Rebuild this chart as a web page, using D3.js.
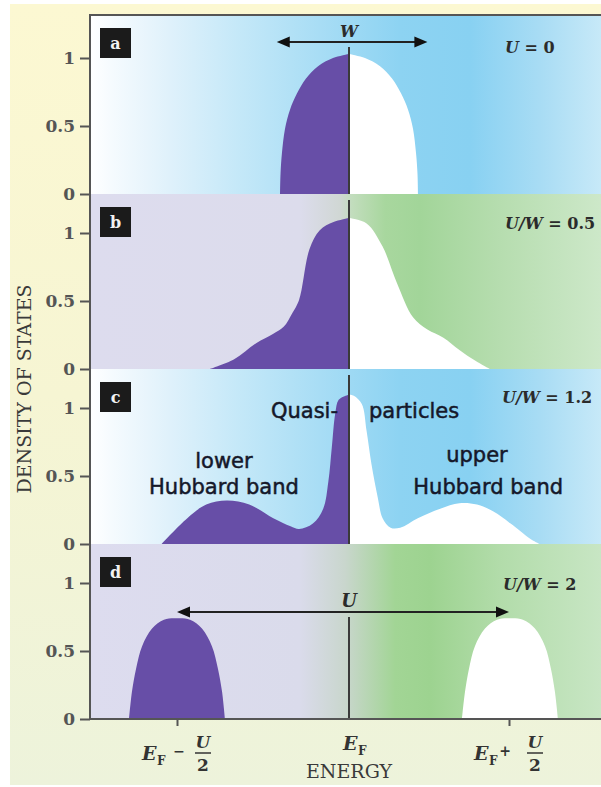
<!DOCTYPE html>
<html><head><meta charset="utf-8">
<script src="https://cdn.jsdelivr.net/npm/d3@7"></script>
<style>html,body{margin:0;padding:0;background:#fff;} svg{display:block;}</style>
</head><body><svg id="chart" width="601" height="787"></svg>
<script>
// ---------------- DATA ----------------
const panelIds = ["a", "b", "c", "d"];
const ratioVars = ["U", "U/W", "U/W", "U/W"];
const ratioValues = ["0", "0.5", "1.2", "2"];

// energy in units of U/2 relative to E_F, density of states (arb.)
const aEnergy = [-0.401, -0.398, -0.390, -0.372, -0.343, -0.302, -0.250, -0.180, -0.093, 0, 0.100, 0.194, 0.269, 0.325, 0.369, 0.400, 0.419, 0.428, 0.431];
const aDos    = [0, 0.15, 0.30, 0.48, 0.62, 0.74, 0.85, 0.94, 1.00, 1.03, 1.00, 0.94, 0.85, 0.74, 0.62, 0.48, 0.30, 0.15, 0];

const bEnergy = [-0.81, -0.67, -0.54, -0.44, -0.38, -0.33, -0.29, -0.23, -0.17, -0.09, 0, 0.11, 0.21, 0.30, 0.40, 0.49, 0.59, 0.69, 0.79, 0.88];
const bDos    = [0, 0.07, 0.19, 0.26, 0.31, 0.41, 0.51, 0.88, 1.02, 1.08, 1.11, 1.07, 0.90, 0.63, 0.38, 0.29, 0.23, 0.14, 0.06, 0];

const cEnergy = [-1.09, -0.94, -0.83, -0.71, -0.58, -0.44, -0.34, -0.29, -0.21, -0.15, -0.12, -0.10, -0.08, -0.06, -0.02, 0, 0.03, 0.08, 0.11, 0.14, 0.18, 0.21, 0.26, 0.32, 0.43, 0.57, 0.69, 0.80, 0.90, 1.01, 1.13, 1.19];
const cDos    = [0, 0.19, 0.29, 0.32, 0.29, 0.19, 0.13, 0.11, 0.15, 0.26, 0.46, 0.71, 0.96, 1.06, 1.09, 1.10, 1.09, 1.03, 0.83, 0.59, 0.34, 0.19, 0.12, 0.12, 0.19, 0.26, 0.30, 0.29, 0.24, 0.15, 0.04, 0];

const dEnergy = [-1.279, -1.262, -1.238, -1.203, -1.145, -1.076, -1.0, -0.924, -0.855, -0.797, -0.762, -0.738, -0.721,
                 0.706, 0.725, 0.750, 0.787, 0.850, 0.925, 1.006, 1.087, 1.162, 1.225, 1.262, 1.287, 1.306];
const dDos    = [0, 0.20, 0.37, 0.535, 0.665, 0.73, 0.74, 0.73, 0.665, 0.535, 0.37, 0.20, 0,
                 0, 0.20, 0.37, 0.535, 0.665, 0.73, 0.74, 0.73, 0.665, 0.535, 0.37, 0.20, 0];

const yTickValues = [0, 0.5, 1];
const yTickLabels = ["0", "0.5", "1"];
const xTickValues = [-1, 0, 1];
const xTickOps = ["\u2212", "", "+"];
const wArrow = [-0.42, 0.49];
const uArrow = [-1, 1];

const cLabels = ["Quasi-", "particles", "lower", "Hubbard band", "upper", "Hubbard band"];
const cLabelEnergy = [-0.064, 0.125, -0.727, -0.727, 0.80, 0.87];
const cLabelDos = [0.93, 0.93, 0.56, 0.37, 0.60, 0.37];
const cLabelAnchor = ["end", "start", "middle", "middle", "middle", "middle"];

// ---------------- LAYOUT ----------------
const svg = d3.select("#chart");
const plotLeft = 90, plotRight = 601, plotTop = 15, plotBottom = 719;
const panelStep = 175, unitPx = 136;
const serif = "'DejaVu Serif', serif";
const sans = "'DejaVu Sans', sans-serif";
const purple = "#674ea7";

const x = d3.scaleLinear().domain([-1, 0, 1]).range([177, 349, 509]);

const defs = svg.append("defs");
function grad(id, stops, vertical) {
  const g = defs.append("linearGradient").attr("id", id)
    .attr("x1", 0).attr("y1", 0).attr("x2", vertical ? 0 : 1).attr("y2", vertical ? 1 : 0);
  stops.forEach(s => g.append("stop").attr("offset", s[0]).attr("stop-color", s[1]));
}
grad("pagebg", [[0, "#fcf8d2"], [0.5, "#f6f5d3"], [1, "#edf3db"]], true);
const off = px => (px - plotLeft) / (plotRight - plotLeft);
grad("blue", [[0, "#ffffff"], [off(110), "#f6fbfe"], [off(170), "#dff1fb"], [off(240), "#c4e8f8"], [off(320), "#a8ddf5"], [off(400), "#8dd3f2"], [off(470), "#88d1f2"], [off(540), "#a8dcf4"], [1, "#c7e9f8"]]);
grad("greenB", [[0, "#dddcee"], [off(300), "#dcdcec"], [off(340), "#d0d7d4"], [off(352), "#c2ddbd"], [off(385), "#a8d79e"], [off(420), "#a2d599"], [off(500), "#b6ddaf"], [1, "#cde8c9"]]);
grad("greenD", [[0, "#dddcef"], [off(300), "#dadbeb"], [off(345), "#c9d6cd"], [off(395), "#a2d595"], [off(430), "#9dd390"], [off(500), "#b2dcaa"], [1, "#c8e6c4"]]);
const panelFill = ["url(#blue)", "url(#greenB)", "url(#blue)", "url(#greenD)"];

svg.append("rect").attr("x", 10).attr("y", 4).attr("width", 591).attr("height", 781).attr("fill", "url(#pagebg)");

const energies = [aEnergy, bEnergy, cEnergy, dEnergy];
const doses = [aDos, bDos, cDos, dDos];
const lineTopOffset = [null, 6, 6, null];

panelIds.forEach((id, i) => {
  const zero = plotBottom - (3 - i) * panelStep;
  const top = i === 0 ? plotTop : zero - panelStep;
  const y = d3.scaleLinear().domain([0, 1]).range([zero, zero - unitPx]);
  const g = svg.append("g");

  g.append("rect").attr("x", plotLeft).attr("y", top).attr("width", plotRight - plotLeft)
    .attr("height", zero - top).attr("fill", panelFill[i]);

  const pts = energies[i].map((e, k) => [e, doses[i][k]]);
  const area = d3.area().x(d => x(d[0])).y0(zero).y1(d => Math.min(zero, y(d[1]))).curve(d3.curveCatmullRom.alpha(0.5));
  g.append("path").datum(pts.filter(d => d[0] <= 0)).attr("d", area).attr("fill", purple);
  g.append("path").datum(pts.filter(d => d[0] >= 0)).attr("d", area).attr("fill", "#ffffff");

  // E_F line
  let lineTop;
  if (i === 0) lineTop = 47; else if (i === 3) lineTop = 617; else lineTop = top + lineTopOffset[i];
  g.append("line").attr("x1", x(0)).attr("x2", x(0)).attr("y1", lineTop).attr("y2", zero)
    .attr("stroke", "#3a3a3a").attr("stroke-width", 2);

  // panel letter box
  g.append("rect").attr("x", 100).attr("y", top + 13).attr("width", 31).attr("height", 30).attr("fill", "#1b1b1b");
  g.append("text").attr("x", 115.5).attr("y", top + 34).attr("text-anchor", "middle")
    .attr("font-family", serif).attr("font-weight", "bold").attr("font-size", 16).attr("fill", "#f2f2f2").text(id);

  // ratio label
  const ry = [53, 229, 403, 590][i];
  const rx = [505, 505, 502, 503][i];
  const rt = g.append("text").attr("x", rx).attr("y", ry).attr("font-family", serif)
    .attr("font-weight", "bold").attr("font-size", 16).attr("fill", "#2b2b2b");
  rt.append("tspan").attr("font-style", "italic").text(ratioVars[i]);
  rt.append("tspan").text(" = " + ratioValues[i]);

  // left axis
  const ax = g.append("g").attr("transform", `translate(${plotLeft},0)`)
    .call(d3.axisLeft(y).tickValues(yTickValues).tickFormat((d, k) => yTickLabels[k]).tickSize(10).tickPadding(5));
  ax.select(".domain").remove();
  ax.selectAll(".tick line").attr("stroke", "#555").attr("stroke-width", 2);
  ax.selectAll(".tick text").attr("font-family", serif).attr("font-weight", "bold").attr("font-size", 17).attr("fill", "#555");

  if (i === 2) {
    cLabels.forEach((t, k) => {
      g.append("text").attr("x", x(cLabelEnergy[k])).attr("y", y(cLabelDos[k]))
        .attr("text-anchor", cLabelAnchor[k]).attr("font-family", sans).attr("font-size", 21)
        .attr("fill", "#15182a").attr("stroke", "#15182a").attr("stroke-width", 0.5).text(t);
    });
  }
});

// arrows
function arrow(x1, x2, yy) {
  svg.append("line").attr("x1", x1 + 6).attr("x2", x2 - 6).attr("y1", yy).attr("y2", yy)
    .attr("stroke", "#222").attr("stroke-width", 2);
  svg.append("path").attr("d", `M${x1},${yy} L${x1 + 13},${yy - 5.5} L${x1 + 13},${yy + 5.5} Z`).attr("fill", "#111");
  svg.append("path").attr("d", `M${x2},${yy} L${x2 - 13},${yy - 5.5} L${x2 - 13},${yy + 5.5} Z`).attr("fill", "#111");
}
arrow(x(wArrow[0]), x(wArrow[1]), 42);
svg.append("text").attr("x", x(0)).attr("y", 37).attr("text-anchor", "middle").attr("font-family", serif)
  .attr("font-weight", "bold").attr("font-style", "italic").attr("font-size", 16).attr("fill", "#2b2b2b").text("W");
arrow(x(uArrow[0]), x(uArrow[1]), 612);
svg.append("text").attr("x", x(0)).attr("y", 607).attr("text-anchor", "middle").attr("font-family", serif)
  .attr("font-weight", "bold").attr("font-style", "italic").attr("font-size", 18).attr("fill", "#2b2b2b").text("U");

// frame lines
svg.append("line").attr("x1", plotLeft).attr("x2", plotLeft).attr("y1", plotTop - 1).attr("y2", plotBottom + 1)
  .attr("stroke", "#555").attr("stroke-width", 2);
svg.append("line").attr("x1", plotLeft).attr("x2", plotRight).attr("y1", plotTop).attr("y2", plotTop)
  .attr("stroke", "#555").attr("stroke-width", 2);
svg.append("line").attr("x1", plotLeft).attr("x2", plotRight).attr("y1", plotBottom).attr("y2", plotBottom)
  .attr("stroke", "#555").attr("stroke-width", 2);

// bottom axis ticks
const bx = svg.append("g").attr("transform", `translate(0,${plotBottom})`)
  .call(d3.axisBottom(x).tickValues(xTickValues.filter(v => v !== 0)).tickSize(7).tickFormat(""));
bx.select(".domain").remove();
bx.selectAll(".tick line").attr("stroke", "#555").attr("stroke-width", 2);

// x tick labels
xTickValues.forEach((v, k) => {
  const cx = x(v);
  const lg = svg.append("g").attr("transform", `translate(${cx},0)`).attr("fill", "#333").attr("font-family", serif);
  if (v === 0) {
    lg.append("text").attr("x", -6).attr("y", 750).attr("font-weight", "bold").attr("font-style", "italic").attr("font-size", 19).text("E");
    lg.append("text").attr("x", 9).attr("y", 755).attr("font-weight", "bold").attr("font-size", 12).text("F");
    return;
  }
  lg.append("text").attr("x", -35).attr("y", 760).attr("font-weight", "bold").attr("font-style", "italic").attr("font-size", 19).text("E");
  lg.append("text").attr("x", -20).attr("y", 765).attr("font-weight", "bold").attr("font-size", 12).text("F");
  lg.append("text").attr("x", v < 0 ? 2 : -4).attr("y", 756).attr("text-anchor", "middle").attr("font-weight", "bold").attr("font-size", 14).text(xTickOps[k]);
  lg.append("text").attr("x", 26).attr("y", 748).attr("text-anchor", "middle").attr("font-weight", "bold").attr("font-style", "italic").attr("font-size", 17).text("U");
  lg.append("line").attr("x1", 18).attr("x2", 34).attr("y1", 753).attr("y2", 753).attr("stroke", "#333").attr("stroke-width", 1.5);
  lg.append("text").attr("x", 26).attr("y", 771).attr("text-anchor", "middle").attr("font-weight", "bold").attr("font-size", 17).text("2");
});

svg.append("text").attr("x", x(0)).attr("y", 778).attr("text-anchor", "middle").attr("font-family", serif)
  .attr("font-size", 19).attr("fill", "#3a3a3a").text("ENERGY");

svg.append("text").attr("transform", "translate(31,389) rotate(-90)").attr("text-anchor", "middle")
  .attr("font-family", serif).attr("font-size", 19).attr("fill", "#3a3a3a").text("DENSITY OF STATES");
</script>
</body></html>
